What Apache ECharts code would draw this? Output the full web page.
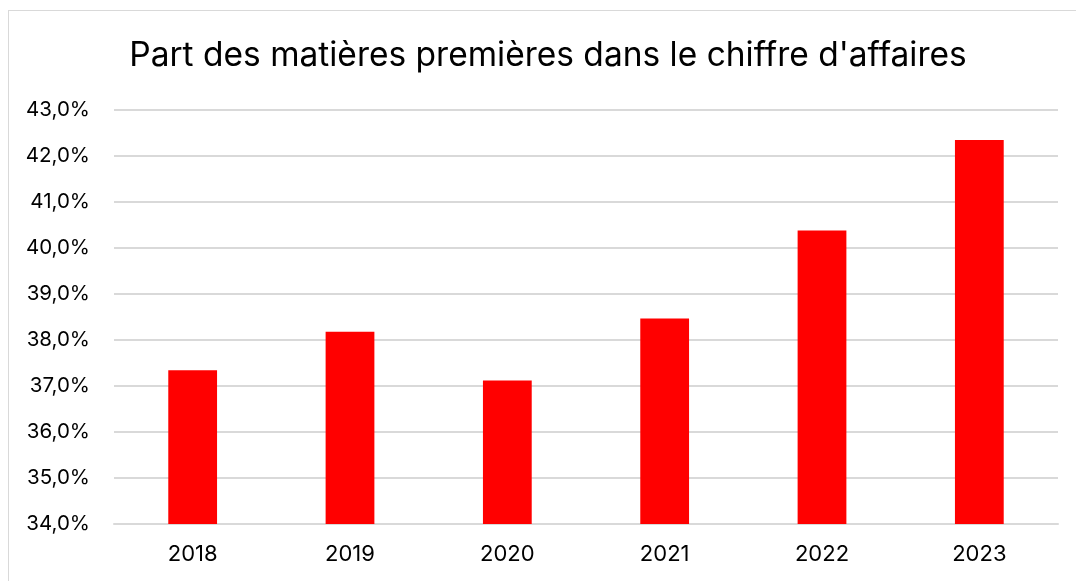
<!DOCTYPE html>
<html><head><meta charset="utf-8">
<script src="https://cdn.jsdelivr.net/npm/echarts@6/dist/echarts.min.js"></script>
<style>
html,body{margin:0;padding:0;background:#fff;overflow:hidden;}
#frame{position:absolute;left:8px;top:10px;width:1200px;height:700px;border:1px solid #d9d9d9;box-sizing:border-box;}
#c{position:absolute;left:10px;top:0;width:1076px;height:581px;}
</style></head>
<body>
<div id="frame"></div>
<div id="c"></div>
<script>
const categories = ['2018','2019','2020','2021','2022','2023'];
const values = [37.34, 38.18, 37.12, 38.47, 40.38, 42.35];
const yTicks = {min: 34, max: 43, interval: 1};
const titleText = "Part des matières premières dans le chiffre d'affaires";

const FONT = 'Inter';
const chart = echarts.init(document.getElementById('c'), null, {renderer:'canvas'});
chart.setOption({
  backgroundColor: 'transparent',
  animation: false,
  title: {
    text: titleText,
    left: 'center',
    top: 34,
    textStyle: {fontFamily: FONT, fontSize: 33.5, fontWeight: 'normal', color: '#000'}
  },
  grid: {left: 104, right: 28, top: 110, bottom: 57, containLabel: false},
  xAxis: {
    type: 'category',
    data: categories,
    axisLine: {show: true, lineStyle: {color: '#d9d9d9', width: 2}},
    axisTick: {show: false},
    axisLabel: {fontFamily: FONT, fontSize: 22, color: '#000', margin: 19}
  },
  yAxis: {
    type: 'value',
    min: yTicks.min, max: yTicks.max, interval: yTicks.interval,
    axisLine: {show: false},
    axisTick: {show: false},
    splitLine: {lineStyle: {color: '#d9d9d9', width: 2}},
    axisLabel: {
      fontFamily: FONT, fontSize: 20.5, color: '#000', margin: 24,
      formatter: v => v.toFixed(1).replace('.', ',') + '%'
    }
  },
  series: [{
    type: 'bar',
    data: values,
    barWidth: '31%',
    itemStyle: {color: '#ff0000'}
  }]
});
</script>
</body></html>
